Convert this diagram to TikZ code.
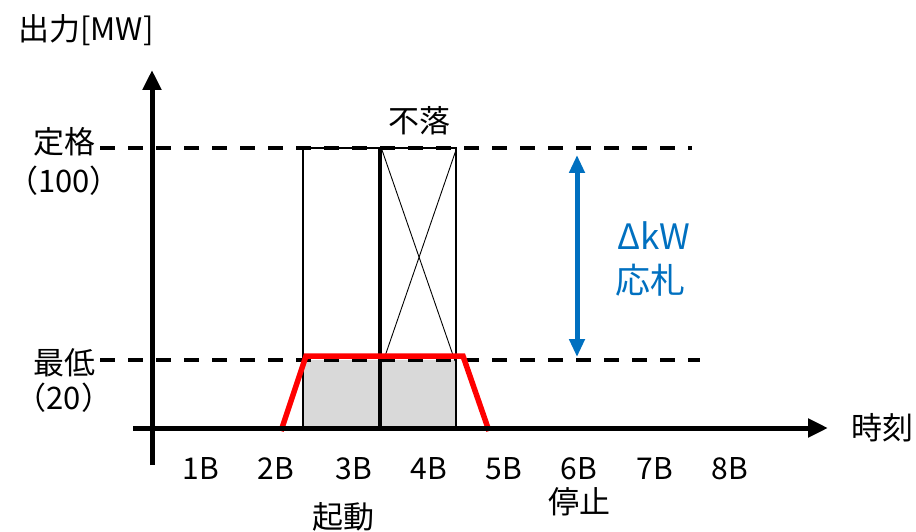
\documentclass[tikz,border=0pt]{standalone}
\usepackage{fontspec}
\setmainfont{Noto Sans CJK JP}
\usetikzlibrary{arrows.meta}
\definecolor{bluearrow}{HTML}{0070C0}
\definecolor{grayfill}{HTML}{D9D9D9}
\definecolor{redline}{HTML}{FF0000}
\begin{document}
\begin{tikzpicture}[x=1pt,y=-1pt,
  lbl/.style={inner sep=0pt, font=\fontsize{31}{36}\selectfont},
  bluelbl/.style={inner sep=0pt, text=bluearrow, font=\fontsize{35}{40}\selectfont},
  tick/.style={inner sep=0pt, font=\fontsize{30}{34}\selectfont},
  axis/.style={line width=5pt, -{Triangle[length=20pt,width=18pt]}},
  level/.style={line width=3.6pt, dash pattern=on 15pt off 13pt},
  slot/.style={line width=2pt},
  cross/.style={line width=0.9pt},
  ramp/.style={draw=redline, line width=5.5pt, line join=miter},
  bid/.style={draw=bluearrow, line width=5pt, {Triangle[length=18pt,width=15pt]}-{Triangle[length=18pt,width=15pt]}}
]
\useasboundingbox (0,0) rectangle (916,532);
% coordinates
\coordinate (ybot) at (152,465);
\coordinate (ytop) at (152,70);
\coordinate (xl) at (133,428);
\coordinate (xr) at (828,428);
\coordinate (rA) at (303,148);
\coordinate (rB) at (380,148);
\coordinate (rC) at (456,148);
\coordinate (bA) at (303,428);
\coordinate (bB) at (380,428);
\coordinate (bC) at (456,428);
\coordinate (gA) at (303,360);
\coordinate (top1) at (100,148);
\coordinate (top2) at (692,148);
\coordinate (low1) at (100,360);
\coordinate (low2) at (700,360);
\coordinate (r1) at (281,431);
\coordinate (r2) at (306,356);
\coordinate (r3) at (463,356);
\coordinate (r4) at (489,431);
\coordinate (a1) at (577,155);
\coordinate (a2) at (577,357);
\coordinate (c1) at (382,150);
\coordinate (c2) at (455,361);
\coordinate (c3) at (456,150);
\coordinate (c4) at (383,362);
% gray fill
\fill[grayfill] (gA) rectangle (bC);
% slots
\draw[slot] (rA) rectangle (bB);
\draw[slot] (rB) rectangle (bC);
\draw[line width=3.5pt] (rB) -- (bB);
\draw[cross] (c1) -- (c2);
\draw[cross] (c3) -- (c4);
% levels
\draw[level] (top1) -- (top2);
\draw[level] (low1) -- (low2);
% red ramp
\draw[ramp] (r1) -- (r2) -- (r3) -- (r4);
% blue arrow
\draw[bid] (a1) -- (a2);
% axes
\draw[axis] (ybot) -- (ytop);
\draw[axis] (xl) -- (xr);
% labels
\node[lbl] (ylab) at (86,30) {出力[MW]};
\node[lbl] (teikaku) at (65,142) {定格};
\node[lbl] (v100) at (64,181) {（100）};
\node[lbl] (saitei) at (65,363) {最低};
\node[lbl] (v20) at (64,398) {（20）};
\node[lbl] (furaku) at (419,121) {不落};
\node[bluelbl] (dkw) at (654,236) {ΔkW};
\node[bluelbl] (osatsu) at (650,280) {応札};
\node[lbl] (jikoku) at (882,428) {時刻};
\node[tick] (t1) at (201,469) {1B};
\node[tick] (t2) at (276,469) {2B};
\node[tick] (t3) at (354,469) {3B};
\node[tick] (t4) at (429,469) {4B};
\node[tick] (t5) at (504,469) {5B};
\node[tick] (t6) at (579,469) {6B};
\node[tick] (t7) at (655,469) {7B};
\node[tick] (t8) at (730,469) {8B};
\node[lbl] (kidou) at (343,517) {起動};
\node[lbl] (teishi) at (579,502) {停止};
\end{tikzpicture}
\end{document}
